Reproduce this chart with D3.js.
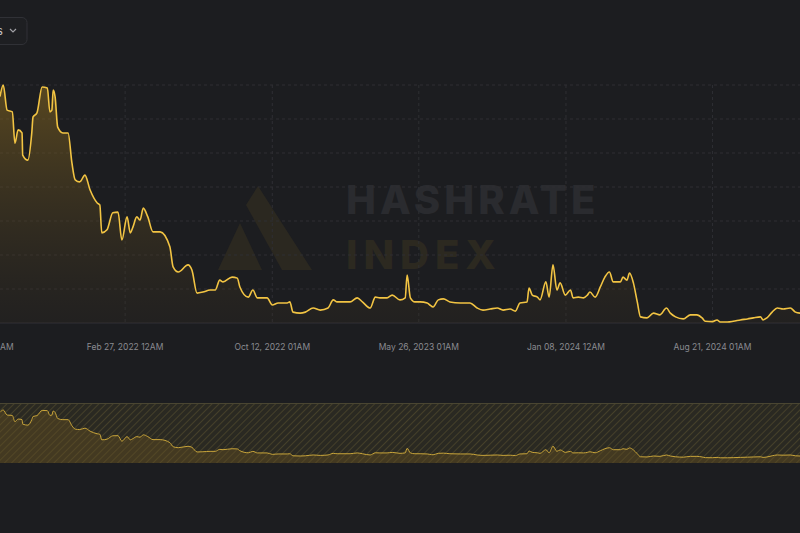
<!DOCTYPE html>
<html><head><meta charset="utf-8">
<script src="https://cdn.jsdelivr.net/npm/d3@7"></script>
<style>body{margin:0;background:#1c1d20;overflow:hidden}</style>
</head><body><svg id="c" width="800" height="533"></svg>
<script>
const startDate = "2021-08-18";
const dayOffsets = [0,5,11,19,23,28,34,35,43,49,51,57,65,73,77,80,82,85,89,97,105,111,116,123,131,139,150,154,157,165,174,182,188,196,201,205,211,216,221,228,236,247,262,267,275,290,296,304,313,324,332,339,344,358,366,370,383,390,397,412,420,429,443,447,452,463,471,483,494,506,514,520,540,551,559,571,579,586,597,605,617,625,628,633,640,648,659,663,668,676,684,694,710,725,736,745,756,767,776,787,795,802,813,816,821,829,833,842,847,853,859,864,872,880,884,892,900,906,910,918,926,933,940,946,957,961,967,971,977,983,988,998,1008,1018,1028,1034,1042,1054,1065,1075,1083,1088,1099,1106,1111,1122,1131,1142,1153,1162,1173,1177,1183,1191,1199,1208,1219,1227,1234];
const values = [6.66,7.00,6.26,6.21,5.29,5.68,5.59,4.94,4.79,5.59,6.06,6.18,6.94,6.91,6.21,6.26,6.85,6.65,5.76,5.59,5.59,4.70,4.21,4.15,4.35,3.91,3.53,3.47,2.65,2.74,3.24,3.26,2.44,3.12,2.65,2.82,3.12,3.03,3.38,3.12,2.68,2.68,2.24,1.65,1.50,1.71,1.56,0.88,0.91,0.97,0.97,1.26,1.21,1.35,1.32,1.06,0.76,0.97,0.74,0.74,0.53,0.59,0.59,0.62,0.32,0.29,0.32,0.44,0.38,0.44,0.68,0.62,0.62,0.74,0.62,0.44,0.76,0.74,0.74,0.82,0.68,0.74,1.41,0.74,0.62,0.62,0.59,0.53,0.47,0.68,0.71,0.62,0.59,0.59,0.44,0.38,0.41,0.44,0.38,0.41,0.35,0.59,0.62,1.03,0.82,0.76,0.68,1.21,0.76,1.71,0.97,1.18,0.82,0.97,0.74,0.76,0.74,0.82,0.91,0.76,1.06,1.35,1.50,1.21,1.21,1.35,1.26,1.47,1.18,0.62,0.18,0.15,0.29,0.24,0.44,0.29,0.18,0.12,0.24,0.24,0.15,0.05,0.04,0.09,0.03,0.03,0.05,0.09,0.12,0.15,0.18,0.09,0.15,0.32,0.44,0.41,0.44,0.32,0.29];
const tickDates = ["2021-07-15","2022-02-27","2022-10-12","2023-05-26","2024-01-08","2024-08-21"];
const tickLabels = ["Jul 15, 2021 12AM","Feb 27, 2022 12AM","Oct 12, 2022 01AM","May 26, 2023 01AM","Jan 08, 2024 12AM","Aug 21, 2024 01AM"];
const gridValues = [0,1,2,3,4,5,6,7];

const parse = d3.utcParse("%Y-%m-%d");
const t0 = parse(startDate);
const data = dayOffsets.map((d,i)=>({date:d3.utcDay.offset(t0,d), v:values[i]}));
const svg = d3.select("#c");
const x = d3.scaleUtc().domain([t0, d3.utcDay.offset(t0, dayOffsets[dayOffsets.length-1])]).range([0,800]);
const y = d3.scaleLinear().domain([0,7]).range([323,85]);
const yn = d3.scaleLinear().domain([0,7]).range([458,410]);

const defs = svg.append("defs");
const g1 = defs.append("linearGradient").attr("id","ag").attr("x1",0).attr("y1",0).attr("x2",0).attr("y2",1);
g1.append("stop").attr("offset","0%").attr("stop-color","#8a6a20").attr("stop-opacity",0.55);
g1.append("stop").attr("offset","100%").attr("stop-color","#3a3020").attr("stop-opacity",0.2);
const pat = defs.append("pattern").attr("id","hatch").attr("width",5).attr("height",5)
  .attr("patternUnits","userSpaceOnUse").attr("patternTransform","rotate(45)");
pat.append("rect").attr("width",5).attr("height",5).attr("fill","#2a2922");
pat.append("line").attr("x1",0).attr("y1",0).attr("x2",0).attr("y2",5).attr("stroke","#45402a").attr("stroke-width",2);

const wm = svg.append("g");
wm.append("path").attr("d","M258,186 L312,270 L282,270 L246,205 Z").attr("fill","#2b2820");
wm.append("path").attr("d","M240,223 L262,270 L218,270 Z").attr("fill","#2b2820");
wm.append("text").attr("x",346).attr("y",214).text("HASHRATE").attr("font-family","Inter, sans-serif")
  .attr("font-weight",800).attr("font-size",40).attr("letter-spacing",4).attr("fill","#2a2b2f");
wm.append("text").attr("x",346).attr("y",269).text("INDEX").attr("font-family","Inter, sans-serif")
  .attr("font-weight",800).attr("font-size",40).attr("letter-spacing",6).attr("fill","#2c2920");

svg.append("g").selectAll("line").data(gridValues).join("line")
  .attr("x1",0).attr("x2",800).attr("y1",d=>y(d)).attr("y2",d=>y(d))
  .attr("stroke",d=>d===0?"#303136":"#2e2f33").attr("stroke-dasharray",d=>d===0?null:"3,3");
svg.append("g").selectAll("line").data(tickDates).join("line")
  .attr("x1",d=>x(parse(d))).attr("x2",d=>x(parse(d))).attr("y1",85).attr("y2",323)
  .attr("stroke","#2e2f33").attr("stroke-dasharray","3,3");

const area = d3.area().x(d=>x(d.date)).y0(323).y1(d=>y(d.v)).curve(d3.curveMonotoneX);
const line = d3.line().x(d=>x(d.date)).y(d=>y(d.v)).curve(d3.curveMonotoneX);
svg.append("path").datum(data).attr("d",area).attr("fill","url(#ag)");
svg.append("path").datum(data).attr("d",line).attr("fill","none").attr("stroke","#f2c443").attr("stroke-width",1.6);

svg.append("g").selectAll("text").data(tickDates).join("text")
  .attr("x",d=>x(parse(d))).attr("y",350).attr("text-anchor","middle")
  .attr("font-family","Inter, sans-serif").attr("font-size",8.5).attr("fill","#8a8b90")
  .text((d,i)=>tickLabels[i]);

svg.append("rect").attr("x",0).attr("y",403).attr("width",800).attr("height",60).attr("fill","url(#hatch)");
svg.append("line").attr("x1",0).attr("x2",800).attr("y1",403.5).attr("y2",403.5).attr("stroke","#4a4632");
const na = d3.area().x(d=>x(d.date)).y0(463).y1(d=>yn(d.v)).curve(d3.curveMonotoneX);
const nl = d3.line().x(d=>x(d.date)).y(d=>yn(d.v)).curve(d3.curveMonotoneX);
svg.append("path").datum(data).attr("d",na).attr("fill","#6a5220").attr("opacity",0.4);
svg.append("path").datum(data).attr("d",nl).attr("fill","none").attr("stroke","#c9a53a").attr("stroke-width",1);

svg.append("rect").attr("x",-20).attr("y",17.5).attr("width",47).attr("height",27).attr("rx",5)
  .attr("fill","#1e1f22").attr("stroke","#303136");
svg.append("text").attr("x",-3).attr("y",35).text("s").attr("font-family","Inter, sans-serif").attr("font-size",11).attr("fill","#c8c8cc");
svg.append("path").attr("d","M10,29 L13,32 L16,29").attr("fill","none").attr("stroke","#a0a0a5").attr("stroke-width",1.2);
</script></body></html>
